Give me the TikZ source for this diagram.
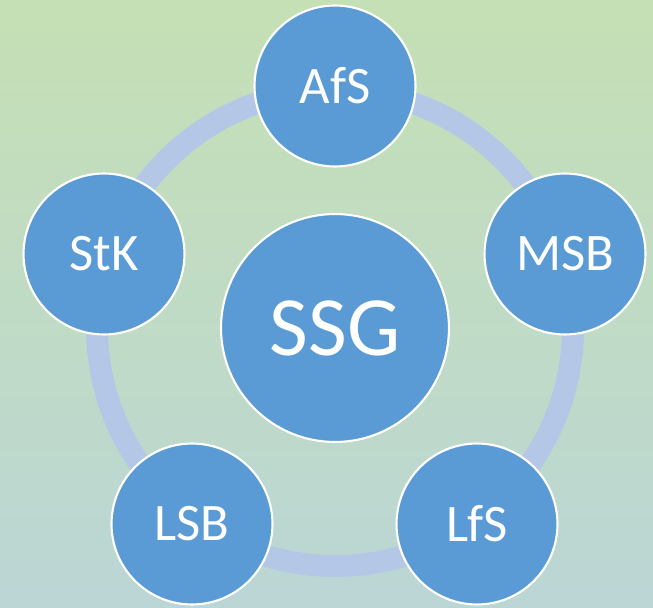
\documentclass[tikz,border=0pt]{standalone}
\usepackage{fontspec}
\setmainfont{Carlito}
\usetikzlibrary{positioning}
\definecolor{bgtop}{RGB}{197,224,180}
\definecolor{bgbot}{RGB}{187,214,213}
\definecolor{ssgblue}{RGB}{91,155,213}
\definecolor{ringblue}{RGB}{180,199,231}
\tikzset{
  unit/.style={circle, fill=ssgblue, draw=white, line width=1.2pt, text=white,
    minimum size=3.22cm, inner sep=0pt, font=\fontsize{30}{30}\selectfont},
  hub/.style={unit, minimum size=4.56cm, font=\fontsize{48}{48}\selectfont}
}
\begin{document}
\begin{tikzpicture}[x=0.02cm,y=-0.02cm]
% Background
\shade[top color=bgtop, bottom color=bgbot] (0,0) rectangle (653,608);
\useasboundingbox (0,0) rectangle (653,608);

% Ring
\coordinate (c) at (335,328);
\draw[ringblue, line width=0.44cm] (c) circle[radius=4.76cm];

% Centre
\node[hub] (ssg) at (c) {SSG};

% Outer circles
\node[unit] (afs) at (335,86) {AfS};
\node[unit] (msb) at (565,254) {MSB};
\node[unit] (lfs) at (477,524) {LfS};
\node[unit] (lsb) at (192,524) {LSB};
\node[unit] (stk) at (104,254) {StK};
\end{tikzpicture}
\end{document}
